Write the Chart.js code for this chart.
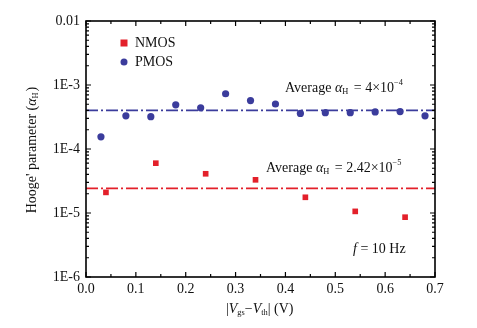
<!DOCTYPE html>
<html>
<head>
<meta charset="utf-8">
<script src="https://cdn.jsdelivr.net/npm/chart.js@4"></script>
<style>
html,body{margin:0;padding:0;background:#fff;}
#wrap{width:477px;height:328px;}
</style>
</head>
<body>
<div id="wrap"><canvas id="c" width="477" height="328"></canvas></div>
<script>
const xN = [0.04, 0.14, 0.24, 0.34, 0.44, 0.54, 0.64];
const yN = [2.1e-5, 6.0e-5, 4.1e-5, 3.3e-5, 1.76e-5, 1.06e-5, 8.6e-6];
const xP = [0.03, 0.08, 0.13, 0.18, 0.23, 0.28, 0.33, 0.38, 0.43, 0.48, 0.53, 0.58, 0.63, 0.68];
const yP = [1.55e-4, 3.3e-4, 3.2e-4, 4.9e-4, 4.4e-4, 7.3e-4, 5.7e-4, 5.05e-4, 3.6e-4, 3.7e-4, 3.7e-4, 3.8e-4, 3.85e-4, 3.3e-4];
const avgN = 2.42e-5;
const avgP = 4e-4;
const xRange = [0, 0.7];
const xTickLabels = ['0.0','0.1','0.2','0.3','0.4','0.5','0.6','0.7'];
const yTickValues = [1e-6, 1e-5, 1e-4, 1e-3, 1e-2];
const yTickLabels = ['1E-6','1E-5','1E-4','1E-3','0.01'];

const RED = '#e3202a';
const BLUE = '#3b3c9c';
const SERIF = '"Liberation Serif", "DejaVu Serif", serif';

const framePlugin = {
  id: 'frame',
  afterDraw(chart) {
    const ctx = chart.ctx, a = chart.chartArea;
    const xs = chart.scales.x, ys = chart.scales.y;
    ctx.save();
    ctx.strokeStyle = '#000';
    ctx.lineWidth = 1.6;
    ctx.strokeRect(a.left, a.top, a.right - a.left, a.bottom - a.top);
    ctx.lineWidth = 1.2;
    ctx.beginPath();
    for (let i = 0; i <= 14; i++) {
      const v = i * 0.05;
      const px = xs.getPixelForValue(v);
      const L = (i % 2 === 0) ? 5 : 3;
      ctx.moveTo(px, a.bottom); ctx.lineTo(px, a.bottom - L);
      ctx.moveTo(px, a.top); ctx.lineTo(px, a.top + L);
    }
    for (let d = -6; d <= -2; d++) {
      for (let m = 1; m <= 9; m++) {
        if (d === -2 && m > 1) break;
        const v = m * Math.pow(10, d);
        const py = ys.getPixelForValue(v);
        const L = (m === 1) ? 5 : 3;
        ctx.moveTo(a.left, py); ctx.lineTo(a.left + L, py);
        ctx.moveTo(a.right, py); ctx.lineTo(a.right - L, py);
      }
    }
    ctx.stroke();

    // legend
    ctx.fillStyle = RED;
    ctx.fillRect(120.5, 39.5, 7, 7);
    ctx.fillStyle = BLUE;
    ctx.beginPath(); ctx.arc(124, 62, 3.5, 0, Math.PI * 2); ctx.fill();
    ctx.fillStyle = '#111';
    ctx.font = '14px ' + SERIF;
    ctx.textBaseline = 'middle';
    ctx.textAlign = 'left';
    ctx.fillText('NMOS', 135, 43.5);
    ctx.fillText('PMOS', 135, 62.5);

    function drawRich(parts, x, y, size) {
      let cx = x;
      for (const p of parts) {
        let fs = size, dy = 0;
        if (p.sub) { fs = size * 0.6; dy = size * 0.3; }
        if (p.sup) { fs = size * 0.6; dy = -size * 0.35; }
        ctx.font = (p.italic ? 'italic ' : '') + fs + 'px ' + SERIF;
        ctx.fillText(p.t, cx, y + dy);
        cx += ctx.measureText(p.t).width + (p.gap || 0);
      }
      return cx;
    }
    ctx.fillStyle = '#111';
    drawRich([{t:'Average '},{t:'α',italic:true},{t:'H',sub:true,gap:2},{t:' = 4×10'},{t:'−4',sup:true}], 285, 88, 14);
    drawRich([{t:'Average '},{t:'α',italic:true},{t:'H',sub:true,gap:2},{t:' = 2.42×10'},{t:'−5',sup:true}], 266, 168, 14);
    drawRich([{t:'f',italic:true},{t:' = 10 Hz'}], 353, 249, 14);

    const xt = [{t:'|'},{t:'V',italic:true},{t:'gs',sub:true},{t:'−'},{t:'V',italic:true},{t:'th',sub:true},{t:'| (V)'}];
    drawRich(xt, 226, 309, 14);

    ctx.save();
    ctx.translate(32, 150);
    ctx.rotate(-Math.PI / 2);
    const yt = [{t:"Hooge' parameter ("},{t:'α',italic:true},{t:'H',sub:true,gap:1},{t:')'}];
    let w = 0;
    for (const p of yt) {
      const fs = p.sub ? 14 * 0.6 : 14;
      ctx.font = (p.italic ? 'italic ' : '') + fs + 'px ' + SERIF;
      w += ctx.measureText(p.t).width + (p.gap || 0);
    }
    drawRich(yt, -w / 2, 0, 14);
    ctx.restore();
    ctx.restore();
  }
};

new Chart(document.getElementById('c'), {
  type: 'scatter',
  data: {
    datasets: [
      {
        label: 'avgN',
        type: 'line',
        data: xRange.map(x => ({x, y: avgN})),
        borderColor: RED,
        borderWidth: 1.8,
        borderDash: [12, 3, 2, 3],
        pointRadius: 0,
        fill: false
      },
      {
        label: 'avgP',
        type: 'line',
        data: xRange.map(x => ({x, y: avgP})),
        borderColor: BLUE,
        borderWidth: 1.8,
        borderDash: [12, 3, 2, 3],
        pointRadius: 0,
        fill: false
      },
      {
        label: 'NMOS',
        data: xN.map((x, i) => ({x, y: yN[i]})),
        pointStyle: 'rect',
        pointRadius: 4,
        backgroundColor: RED,
        borderColor: RED,
        borderWidth: 0
      },
      {
        label: 'PMOS',
        data: xP.map((x, i) => ({x, y: yP[i]})),
        pointStyle: 'circle',
        pointRadius: 3.6,
        backgroundColor: BLUE,
        borderColor: BLUE,
        borderWidth: 0
      }
    ]
  },
  options: {
    responsive: false,
    animation: false,
    layout: { padding: { left: 0, top: 21, right: 42, bottom: 0 } },
    plugins: { legend: { display: false }, tooltip: { enabled: false } },
    scales: {
      x: {
        type: 'linear',
        min: xRange[0], max: xRange[1],
        afterFit(s) { s.height = 51; },
        afterBuildTicks(s) { s.ticks = xTickLabels.map(l => ({value: parseFloat(l)})); },
        ticks: {
          callback: (v, i) => xTickLabels[i],
          font: { family: SERIF, size: 14 },
          color: '#111',
          padding: 4,
          maxRotation: 0,
          autoSkip: false
        },
        grid: { display: false, drawTicks: false },
        border: { display: false }
      },
      y: {
        type: 'logarithmic',
        min: 1e-6, max: 1e-2,
        afterFit(s) { s.width = 86; },
        afterBuildTicks(s) { s.ticks = yTickValues.map(v => ({value: v})); },
        ticks: {
          callback: (v, i) => yTickLabels[i],
          font: { family: SERIF, size: 14 },
          color: '#111',
          padding: 6,
          autoSkip: false
        },
        grid: { display: false, drawTicks: false },
        border: { display: false }
      }
    }
  },
  plugins: [framePlugin]
});
</script>
</body>
</html>
